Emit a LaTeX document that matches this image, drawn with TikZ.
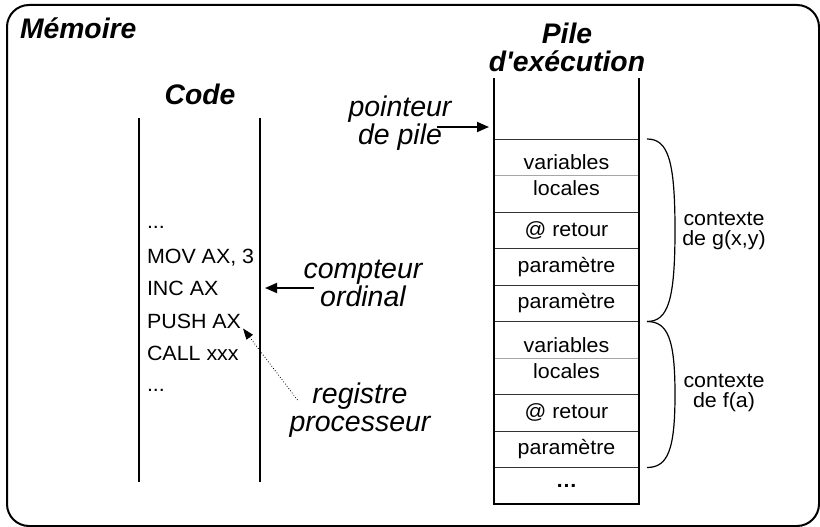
\documentclass[tikz,border=0pt]{standalone}
\usepackage{fontspec}
\setmainfont{Liberation Sans}[FakeStretch=1.04]
\newfontfamily\titlefont{Liberation Sans}
\newfontfamily\lblfont{Liberation Sans}
\usetikzlibrary{arrows.meta,calc,positioning}

\begin{document}
\begin{tikzpicture}[x=1pt,y=-1pt,
  every node/.style={inner sep=0pt, outer sep=0pt},
  frame/.style={draw, line width=2pt, rounded corners=22pt},
  title/.style={font=\titlefont\fontsize{28.3}{28.3}\selectfont\bfseries\itshape, align=center},
  lbl/.style={font=\lblfont\fontsize{28.5}{28}\selectfont\itshape, align=center},
  codeline/.style={font=\fontsize{20.6}{24}\selectfont, anchor=base west},
  cell/.style={minimum width=145pt, font=\fontsize{20.6}{26}\selectfont, align=center},
  ctx/.style={font=\fontsize{20.6}{19.5}\selectfont, align=center},
  wall/.style={line width=2pt, line join=miter},
  sepline/.style={line width=1pt, draw=black!80},
  midline/.style={line width=1pt, draw=black!35},
  bracepath/.style={line width=1.2pt},
  parrow/.style={line width=1.8pt, -{Triangle[length=12pt,width=10pt]}},
  darrow/.style={line width=0.8pt, dotted, -{Triangle[length=11pt,width=8pt]}}
]
\useasboundingbox (0,0) rectangle (820,527);

% memory frame
\node[frame, minimum width=812pt, minimum height=521pt] (mem) at (413,265.5) {};
\node[title, anchor=base west] (memtitle) at (20,38.5) {Mémoire};

% code segment
\node[title, anchor=base] (codetitle) at (200,104) {Code};
\node[minimum width=121pt, minimum height=364pt] (code) at (199.5,300) {};
\draw[wall] (code.north west) -- (code.south west);
\draw[wall] (code.north east) -- (code.south east);

\node[codeline] (c1) at (147,228) {...};
\node[codeline] (c2) at (147,263.3) {MOV AX, 3};
\node[codeline] (c3) at (147,295) {INC AX};
\node[codeline] (c4) at (147,328.3) {PUSH AX};
\node[codeline] (c5) at (147,360) {CALL xxx};
\node[codeline] (c6) at (147,391.7) {...};

% execution stack
\node[title] (piletitle) at (567,47.5) {Pile\\d'exécution};
\node[cell, minimum height=61pt] (top) at (566.5,108.5) {};
\node[cell, minimum height=73pt, below=0pt of top] (vl1) {variables\\locales};
\node[cell, minimum height=36.5pt, below=0pt of vl1] (ret1) {@ retour};
\node[cell, minimum height=36.5pt, below=0pt of ret1] (par1) {paramètre};
\node[cell, minimum height=36.5pt, below=0pt of par1] (par2) {paramètre};
\node[cell, minimum height=73pt, below=0pt of par2] (vl2) {variables\\locales};
\node[cell, minimum height=36.5pt, below=0pt of vl2] (ret2) {@ retour};
\node[cell, minimum height=36.5pt, below=0pt of ret2] (par3) {paramètre};
\node[cell, minimum height=36.5pt, below=0pt of par3] (dots) {\bfseries …};

\foreach \c in {vl1,ret1,par1,par2,vl2,ret2,par3,dots}
  \draw[sepline] (\c.north west) -- (\c.north east);
\draw[midline] (vl1.west) -- (vl1.east);
\draw[midline] (vl2.west) -- (vl2.east);
\draw[wall] (top.north west) -- (dots.south west) -- (dots.south east) -- (top.north east);

% call contexts
\coordinate (g0) at ($(vl1.north east)+(8,0)$);
\coordinate (g1) at ($(par2.south east)+(8,0)$);
\coordinate (f1) at ($(par3.south east)+(8,0)$);
\draw[bracepath] (g0) .. controls ($(g0)+(21,0)$) and ($(g0)+(28,21)$) .. ($(g0)!0.5!(g1)+(28,0)$)
  .. controls ($(g1)+(28,-21)$) and ($(g1)+(21,0)$) .. (g1);
\draw[bracepath] (g1) .. controls ($(g1)+(21,0)$) and ($(g1)+(28,18)$) .. ($(g1)!0.5!(f1)+(28,0)$)
  .. controls ($(f1)+(28,-18)$) and ($(f1)+(21,0)$) .. (f1);
\node[ctx] (gctx) at (724,231) {contexte\\de g(x,y)};
\node[ctx] (fctx) at (724,393) {contexte\\de f(a)};

% registers
\node[lbl] (ptr) at (400,123.5) {pointeur\\de pile};
\node[lbl] (cnt) at (363,283) {compteur\\ordinal};
\node[lbl] (reg) at (360,410) {registre\\processeur};

\draw[parrow] ([xshift=-14pt,yshift=-3.5pt]ptr.east) -- ([xshift=-5pt,yshift=12pt]top.south west);
\draw[parrow] ($(cnt.west)+(10,5)$) coordinate (cntS) -- ($(code.east |- cntS)+(5,0)$);
\draw[darrow] ($(reg.west)+(8,-10)$) -- ($(c4.south east)+(2,0)$);
\end{tikzpicture}
\end{document}
